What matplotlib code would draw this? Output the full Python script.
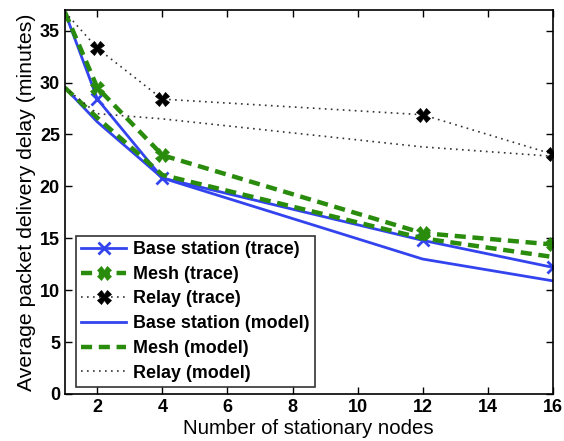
import matplotlib
matplotlib.use("Agg")
import matplotlib.pyplot as plt

x = [1, 2, 4, 12, 16]
base_trace = [36.8, 28.4, 20.8, 14.8, 12.2]
mesh_trace = [36.8, 29.5, 23.0, 15.5, 14.4]
relay_trace = [36.8, 33.3, 28.4, 26.9, 23.1]
base_model = [29.5, 26.2, 20.8, 13.0, 10.9]
mesh_model = [29.5, 26.6, 21.1, 15.0, 13.2]
relay_model = [29.5, 27.0, 26.5, 23.8, 22.9]
xticks = [2, 4, 6, 8, 10, 12, 14, 16]
yticks = [0, 5, 10, 15, 20, 25, 30, 35]

plt.rcParams['font.family'] = ['Liberation Sans', 'DejaVu Sans']
fig = plt.figure(figsize=(5.64, 4.41), dpi=100)
ax = fig.add_axes([0.115, 0.1066, 0.865, 0.871])

blue = '#3344ee'
green = '#2a8c0c'
dot = (0, (1, 2.6))
mk = [1, 2, 3, 4]
ax.plot(x, base_trace, color=blue, lw=2, marker='x', ms=8, mew=2, markevery=mk, label='Base station (trace)')
ax.plot(x, mesh_trace, color=green, lw=3.2, ls=(0, (2.5, 1.5)), marker='X', ms=10, mew=0.5, markevery=mk, label='Mesh (trace)')
ax.plot(x, relay_trace, color='#333333', lw=1.2, ls=dot, marker='X', ms=9.5, mew=0.5, mfc='black', mec='black', markevery=mk, label='Relay (trace)')
ax.plot(x, base_model, color=blue, lw=2, label='Base station (model)')
ax.plot(x, mesh_model, color=green, lw=3.2, ls=(0, (2.5, 1.5)), label='Mesh (model)')
ax.plot(x, relay_model, color='#333333', lw=1.2, ls=dot, label='Relay (model)')

ax.set_xlim(1, 16)
ax.set_ylim(0, 37)
ax.set_xticks(xticks)
ax.set_yticks(yticks)
ax.tick_params(direction='in', top=True, right=True, length=5, width=1, labelsize=13)
for lab in ax.get_xticklabels() + ax.get_yticklabels():
    lab.set_fontweight('bold')
for s in ax.spines.values():
    s.set_linewidth(1.2)
ax.set_xlabel('Number of stationary nodes', fontsize=14.7, labelpad=2)
ax.set_ylabel('Average packet delivery delay (minutes)', fontsize=15.3, labelpad=3)

leg = ax.legend(loc='lower left', bbox_to_anchor=(11/488, 7/384), prop={'weight': 'bold', 'size': 12.9},
                frameon=True, fancybox=False, edgecolor='black', handlelength=2.5,
                borderpad=0.3, labelspacing=0.43, handletextpad=0.4, borderaxespad=0)
leg.get_frame().set_linewidth(1.2)

fig.savefig('out.png', dpi=100)
